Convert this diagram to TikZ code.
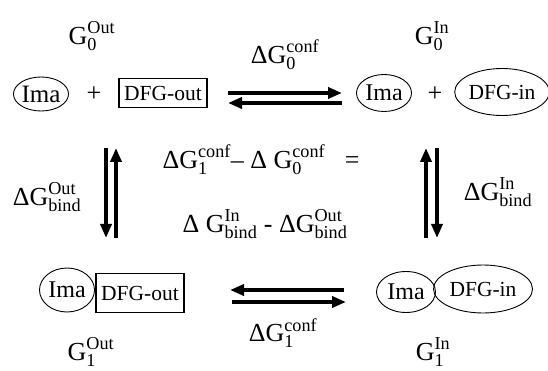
\documentclass[tikz,border=0pt]{standalone}
\usepackage{amsmath}
\usepackage{fontspec}
\setmainfont{Liberation Serif}
\usetikzlibrary{arrows.meta,positioning,shapes.geometric}

\newcommand{\gsym}[3]{\ensuremath{\text{#1}^{\text{#2}}_{\text{#3}}}}

\begin{document}
\begin{tikzpicture}[
  x=1pt, y=-1pt,
  font=\fontsize{21.5}{25}\selectfont,
  mol/.style={draw, ellipse, line width=0.9pt, inner sep=0pt},
  ima/.style={mol, font=\fontsize{24}{28}\selectfont},
  frame/.style={draw, rectangle, line width=1.1pt, inner sep=0pt},
  plus/.style={font=\fontsize{26}{30}\selectfont, inner sep=0pt},
  lbl/.style={font=\fontsize{26}{30}\selectfont, inner sep=0pt},
  eqarrow/.style={line width=3.5pt, -{Triangle[length=14pt,width=11pt]}}
]
\useasboundingbox (0,0) rectangle (548,371);

% free energies of the states
\node[lbl] (g0out) at (92,36)  {\gsym{G}{Out}{0}};
\node[lbl] (g0in)  at (432,36) {\gsym{G}{In}{0}};
\node[lbl] (g1out) at (91,352) {\gsym{G}{Out}{1}};
\node[lbl] (g1in)  at (433,352) {\gsym{G}{In}{1}};

% ---- unbound states
\node[ima, minimum width=55pt, minimum height=34pt, font=\fontsize{25}{29}\selectfont] (ima0) at (41,94) {Ima};
\node[plus] (plus0) at (94,94) {+};
\node[frame, minimum width=88pt, minimum height=29pt] (dfgout0) at (163,93) {DFG-out};
\node[ima, minimum width=55pt, minimum height=37pt] (ima1) at (384,93) {Ima};
\node[plus] (plus1) at (435,94) {+};
\node[mol, minimum width=90pt, minimum height=47pt] (dfgin0) at (502,92) {DFG-in};

% ---- bound states
\node[ima, minimum width=55pt, minimum height=44pt] (ima2) at (67,290) {Ima};
\node[frame, minimum width=88pt, minimum height=39pt] (dfgout1) at (140,293) {DFG-out};
\node[ima, minimum width=59pt, minimum height=41pt] (ima3) at (406,292) {Ima};
\node[mol, minimum width=99pt, minimum height=48pt] (dfgin1) at (483,289) {DFG-in};

% ---- equilibrium arrows
\coordinate (tl) at (228,93);  \coordinate (tr) at (342,93);
\coordinate (ul) at (228,103); \coordinate (ur) at (342,103);
\draw[eqarrow] (tl) -- (tr);
\draw[eqarrow] (ur) -- (ul);
\node[lbl] (dg0conf) at (285,55) {\gsym{ΔG}{conf}{0}};

\coordinate (bl) at (230,290); \coordinate (br) at (344,290);
\coordinate (cl) at (232,302); \coordinate (cr) at (346,302);
\draw[eqarrow] (br) -- (bl);
\draw[eqarrow] (cl) -- (cr);
\node[lbl] (dg1conf) at (283,333) {\gsym{ΔG}{conf}{1}};

\coordinate (lat) at (106,148); \coordinate (lab) at (106,238);
\coordinate (lbt) at (116,148); \coordinate (lbb) at (116,238);
\draw[eqarrow] (lat) -- (lab);
\draw[eqarrow] (lbb) -- (lbt);
\node[lbl] (dgbindout) at (47,197) {\gsym{ΔG}{Out}{bind}};

\coordinate (rat) at (426,148); \coordinate (rab) at (426,238);
\coordinate (rbt) at (437,148); \coordinate (rbb) at (437,238);
\draw[eqarrow] (rab) -- (rat);
\draw[eqarrow] (rbt) -- (rbb);
\node[lbl] (dgbindin) at (498,192) {\gsym{ΔG}{In}{bind}};

% ---- cycle relation
\node[lbl] (rel1) at (261,160) {\gsym{ΔG}{conf}{1}– Δ \gsym{G}{conf}{0}\ \ \ =};
\node[lbl] (rel2) at (265,224) {Δ \gsym{G}{In}{bind} - \gsym{ΔG}{Out}{bind}};
\end{tikzpicture}
\end{document}
